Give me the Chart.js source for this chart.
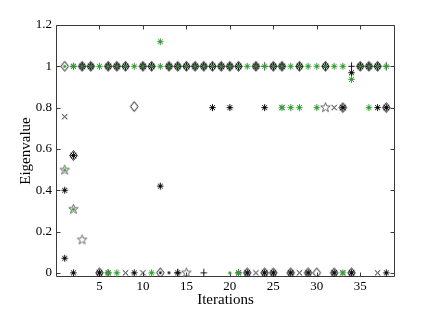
<!DOCTYPE html>
<html><head><meta charset="utf-8">
<script src="https://cdn.jsdelivr.net/npm/chart.js@4.4.0/dist/chart.umd.min.js"></script>
<style>html,body{margin:0;padding:0;background:#fff}</style>
</head><body>
<canvas id="c" width="436" height="311"></canvas>
<script>
// ---- axis definitions ----
const xTicks = [5, 10, 15, 20, 25, 30, 35];
const yTicks = [0, 0.2, 0.4, 0.6, 0.8, 1, 1.2];
const xTitle = 'Iterations';
const yTitle = 'Eigenvalue';

// ---- series (iteration, eigenvalue) per marker type ----
const diamondIter = [1,3,4,6,7,8,10,11,13,14,15,16,17,18,19,20,21,23,25,26,28,31,35,36,37, 2,9,33,38, 5,12,22,24,25,27,29,30,32,34];
const diamondVal  = [1,1,1,1,1,1,1,1,1,1,1,1,1,1,1,1,1,1,1,1,1,1,1,1,1, 0.568,0.805,0.8,0.8, 0,0,0,0,0,0,0,0,0,0];

const asteriskIter = [2,3,4,6,7,8,10,11,13,14,15,16,17,18,19,20,21,23,25,26,28,31,35,36,37, 1,1,2,2,12,18,20,24,33,34,37,38, 5,6,9,14,21,22,24,25,27,29,32,34,38];
const asteriskVal  = [1,1,1,1,1,1,1,1,1,1,1,1,1,1,1,1,1,1,1,1,1,1,1,1,1, 0.40,0.071,0,0.568,0.42,0.8,0.8,0.8,0.8,0.969,0.8,0.8, 0,0,0,0,0,0,0,0,0,0,0,0,0];

const crossIter = [3,4,6,7,8,10,11,13,14,15,16,17,18,19,20,21,23,25,26,28,31,35,36,37, 1,2,26,32,33,38, 5,8,10,22,23,24,25,27,28,29,32,33,34,37];
const crossVal  = [1,1,1,1,1,1,1,1,1,1,1,1,1,1,1,1,1,1,1,1,1,1,1,1, 0.756,0.568,0.8,0.8,0.8,0.8, 0,0,0,0,0,0,0,0,0,0,0,0,0,0];

const plusIter = [3,4,6,7,8,10,11,13,14,15,16,17,18,19,20,21,23,25,26,28,31,35,36,37,24,34,38, 14,17];
const plusVal  = [1,1,1,1,1,1,1,1,1,1,1,1,1,1,1,1,1,1,1,1,1,1,1,1,1,1,1, 0,0];

const starIter = [1,2,3,31,15];
const starVal  = [0.498,0.308,0.16,0.8,0];

const greenAstIter = [2,5,9,12,22,24,27,29,30,32,33,38, 12,34,26,27,28,30,36, 6,7,11,21,33];
const greenAstVal  = [1,1,1,1,1,1,1,1,1,1,1,1, 1.119,0.937,0.8,0.8,0.8,0.8,0.8, 0,0,0,0,0];

const greenDotIter = [1,3,4,6,7,8,10,11,13,14,15,16,17,18,19,20,21,23,25,26,28,31,35,36,37, 1,2,20];
const greenDotVal  = [1,1,1,1,1,1,1,1,1,1,1,1,1,1,1,1,1,1,1,1,1,1,1,1,1, 0.498,0.308,0];

const blackDotIter = [12,13];
const blackDotVal  = [0,0];

// ---- marker images ----
const GREEN = '#34a034';
function mk(size, draw){
  const c = document.createElement('canvas');
  c.width = c.height = size;
  const g = c.getContext('2d');
  g.translate(size/2, size/2);
  draw(g);
  return c;
}
function strokeLines(g, segs, color, lw){
  g.strokeStyle = color; g.lineWidth = lw || 1; g.beginPath();
  segs.forEach(s => { g.moveTo(s[0], s[1]); g.lineTo(s[2], s[3]); });
  g.stroke();
}
const mDiamond = mk(13, g => { g.strokeStyle = '#111'; g.lineWidth = 1; g.beginPath();
  g.moveTo(0,-4.9); g.lineTo(3.8,0); g.lineTo(0,4.9); g.lineTo(-3.8,0); g.closePath(); g.stroke(); });
const astSegs = [[-3.2,0,3.2,0],[0,-3.5,0,3.5],[-2.5,-2.5,2.5,2.5],[-2.5,2.5,2.5,-2.5]];
const mAst = mk(11, g => strokeLines(g, astSegs, '#111', 1));
const mGreenAst = mk(11, g => strokeLines(g, astSegs, GREEN, 1));
const mCross = mk(11, g => strokeLines(g, [[-2.7,-2.7,2.7,2.7],[-2.7,2.7,2.7,-2.7]], '#111', 1));
const mPlus = mk(11, g => strokeLines(g, [[-3.2,0,3.2,0],[0,-4,0,4]], '#111', 1));
const mStar = mk(13, g => { g.strokeStyle = '#666'; g.lineWidth = 1; g.beginPath();
  for (let k = 0; k < 10; k++) { const r = k % 2 ? 2.1 : 5; const a = -Math.PI/2 + k*Math.PI/5;
    const px = r*Math.cos(a), py = r*Math.sin(a); if (k) g.lineTo(px,py); else g.moveTo(px,py); }
  g.closePath(); g.stroke(); });
const mGreenDot = mk(7, g => { g.fillStyle = GREEN; g.beginPath(); g.arc(0,0,1.6,0,Math.PI*2); g.fill(); });
const mBlackDot = mk(7, g => { g.fillStyle = '#111'; g.beginPath(); g.arc(0,0,1.4,0,Math.PI*2); g.fill(); });

function pts(xs, ys){ return xs.map((x,i) => ({x: x, y: ys[i]})); }
function ds(label, xs, ys, style){
  return { label, data: pts(xs, ys), pointStyle: style, pointRadius: 4, pointHoverRadius: 4, showLine: false };
}

const FONT = '"Liberation Serif", "Times New Roman", serif';
const framePlugin = {
  id: 'frame',
  beforeDatasetsDraw(chart){
    const {ctx, chartArea: a, scales: {x, y}} = chart;
    ctx.save();
    const L = Math.round(a.left)+0.5, R = Math.round(a.right)-0.5, T = Math.round(a.top)+0.5, B = Math.round(a.bottom)-0.5;
    ctx.strokeStyle = '#3a3a3a'; ctx.lineWidth = 1;
    ctx.beginPath();
    ctx.moveTo(L,T); ctx.lineTo(R,T); ctx.lineTo(R,B); ctx.lineTo(L,B); ctx.closePath();
    const tl = 4;
    xTicks.forEach(v => { const px = Math.round(x.getPixelForValue(v))+0.5;
      ctx.moveTo(px,B); ctx.lineTo(px,B-tl); ctx.moveTo(px,T); ctx.lineTo(px,T+tl); });
    yTicks.forEach(v => { const py = Math.round(y.getPixelForValue(v))+0.5;
      ctx.moveTo(L,py); ctx.lineTo(L+tl,py); ctx.moveTo(R,py); ctx.lineTo(R-tl,py); });
    ctx.stroke();
    ctx.fillStyle = '#000';
    ctx.font = '13px ' + FONT;
    ctx.textAlign = 'center'; ctx.textBaseline = 'top';
    xTicks.forEach(v => ctx.fillText(String(v), x.getPixelForValue(v), a.bottom + 3));
    ctx.textAlign = 'right'; ctx.textBaseline = 'middle';
    yTicks.forEach(v => ctx.fillText(String(v), a.left - 4, y.getPixelForValue(v)));
    ctx.font = '15px ' + FONT;
    ctx.textAlign = 'center'; ctx.textBaseline = 'middle';
    ctx.fillText(xTitle, (a.left + a.right)/2, 300);
    ctx.translate(26, (a.top + a.bottom)/2);
    ctx.rotate(-Math.PI/2);
    ctx.fillText(yTitle, 0, 0);
    ctx.restore();
  }
};

new Chart(document.getElementById('c'), {
  type: 'scatter',
  data: { datasets: [
    ds('green dot', greenDotIter, greenDotVal, mGreenDot),
    ds('green asterisk', greenAstIter, greenAstVal, mGreenAst),
    ds('dot', blackDotIter, blackDotVal, mBlackDot),
    ds('asterisk', asteriskIter, asteriskVal, mAst),
    ds('cross', crossIter, crossVal, mCross),
    ds('plus', plusIter, plusVal, mPlus),
    ds('pentagram', starIter, starVal, mStar),
    ds('diamond', diamondIter, diamondVal, mDiamond)
  ]},
  options: {
    responsive: false, animation: false, devicePixelRatio: 1,
    layout: { padding: { left: 0, right: 41, top: 25, bottom: 0 } },
    plugins: { legend: { display: false }, tooltip: { enabled: false } },
    events: [],
    scales: {
      x: { type: 'linear', min: 0, max: 39, grid: { display: false }, border: { display: false },
           ticks: { display: false }, afterFit: s => { s.height = 34; } },
      y: { type: 'linear', min: -0.02, max: 1.2, grid: { display: false }, border: { display: false },
           ticks: { display: false }, afterFit: s => { s.width = 56; } }
    }
  },
  plugins: [framePlugin]
});
</script>
</body></html>
